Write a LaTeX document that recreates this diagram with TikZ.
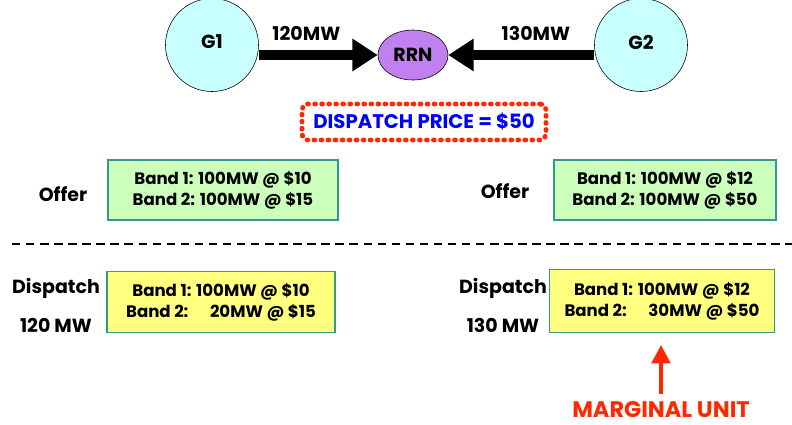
\documentclass[tikz,border=0pt]{standalone}
\usepackage{fontspec}
\setmainfont{Poppins}
\usetikzlibrary{arrows.meta, shapes.geometric}
\definecolor{gencyan}{RGB}{200,255,255}
\definecolor{nodepurple}{RGB}{192,128,240}
\definecolor{offergreen}{RGB}{204,255,187}
\definecolor{boxteal}{RGB}{51,153,136}
\definecolor{dispyellow}{RGB}{255,255,128}
\definecolor{pricered}{RGB}{255,40,0}
\begin{document}
\begin{tikzpicture}[x=0.025cm, y=-0.025cm,
    every node/.style={font=\fontsize{13.5}{16}\selectfont\bfseries},
    gen/.style={circle, draw=black, fill=gencyan, minimum size=2.325cm},
    bandbox/.style={draw=boxteal, thick, align=center, inner sep=0pt, font=\fontsize{11.8}{15}\selectfont\bfseries},
    flow/.style={line width=6.5pt, -{Triangle[length=18pt, width=22pt]}}]
                \useasboundingbox (0,0) rectangle (792,424);

                % Network
                \node[gen] (G1) at (212,45) {};
                \node at (212,42) {G1};
                \node[gen] (G2) at (641,45) {};
                \node at (641,42) {G2};
                \node[ellipse, draw=black, fill=nodepurple, minimum width=1.75cm, minimum height=1.25cm, inner sep=0pt] (RRN) at (413,55) {RRN};
                \draw[flow] (G1.east |- RRN) -- (RRN.west) node[pos=0.4, above=4pt] {120MW};
                \draw[flow] (G2.west |- RRN) -- (RRN.east) node[pos=0.4, above=4pt] {130MW};

                % Price
                \node[draw=pricered, line width=3.5pt, dash pattern=on 0.5pt off 4.5pt, line cap=round, rounded corners=4pt,
                      minimum width=6.1cm, minimum height=0.9cm, text=blue, font=\fontsize{14}{16}\selectfont\bfseries] (price) at (424,122) {DISPATCH PRICE = \$50};

                % Offers
                \node[bandbox, fill=offergreen, minimum width=5.75cm, minimum height=1.5cm] (offerA) at (223,190) {Band 1: 100MW @ \$10\\Band 2: 100MW @ \$15};
                \node (offerAlbl) at (63,194) {Offer};
                \node[bandbox, fill=offergreen, minimum width=5.55cm, minimum height=1.5cm] (offerB) at (665,190) {Band 1: 100MW @ \$12\\Band 2: 100MW @ \$50};
                \node (offerBlbl) at (505,191) {Offer};

                \draw[thick, dash pattern=on 6pt off 4pt] (12,244) -- (792,244);

                % Dispatch
                \node[bandbox, fill=dispyellow, minimum width=5.7cm, minimum height=1.525cm] (dispA) at (221,302) {Band 1: 100MW @ \$10\\Band 2:\hspace{1.3em}20MW @ \$15};
                \node (dispAlbl) at (56,288) {Dispatch};
                \node (dispAmw) at (56,325) {120 MW};
                \node[bandbox, fill=dispyellow, minimum width=5.625cm, minimum height=1.575cm] (dispB) at (662,301) {Band 1: 100MW @ \$12\\Band 2:\hspace{1.3em}30MW @ \$50};
                \node (dispBlbl) at (503,288) {Dispatch};
                \node (dispBmw) at (503,325) {130 MW};

                % Marginal unit
                \node[text=pricered, font=\fontsize{16}{18}\selectfont\bfseries] (marg) at (661,410) {MARGINAL UNIT};
                \coordinate (margtip) at (661,345);
                \draw[pricered, line width=3pt, -{Triangle[length=13pt, width=13pt]}] (marg.north) ++(0,-3) -- (margtip);
            \end{tikzpicture}
\end{document}
